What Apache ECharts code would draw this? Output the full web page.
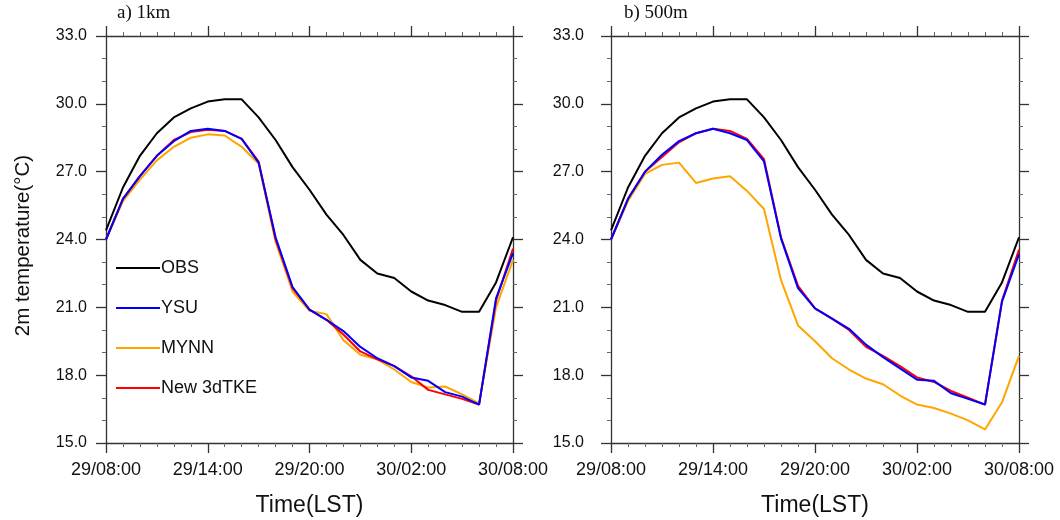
<!DOCTYPE html>
<html>
<head>
<meta charset="utf-8">
<script src="https://cdn.jsdelivr.net/npm/echarts@6/dist/echarts.min.js"></script>
<style>html,body{margin:0;padding:0;background:#fff}#c{width:1060px;height:520px}</style>
</head>
<body>
<div id="c"></div>
<script>
// hours since 29/08:00
var hours = [0,1,2,3,4,5,6,7,8,9,10,11,12,13,14,15,16,17,18,19,20,21,22,23,24];
var timeLabels = ['29/08:00','29/14:00','29/20:00','30/02:00','30/08:00'];
var panelTitles = ['a) 1km','b) 500m'];
var seriesNames = ['OBS','YSU','MYNN','New 3dTKE'];

var obs   = [24.4,26.3,27.7,28.7,29.4,29.8,30.1,30.2,30.2,29.4,28.4,27.2,26.2,25.1,24.2,23.1,22.5,22.3,21.7,21.3,21.1,20.8,20.8,22.1,24.1];

var ysu1  = [24.0,25.8,26.8,27.7,28.35,28.8,28.9,28.8,28.45,27.4,24.1,21.9,20.9,20.45,19.95,19.25,18.75,18.4,17.9,17.75,17.25,17.05,16.7,21.4,23.4];
var mynn1 = [24.0,25.7,26.65,27.5,28.1,28.5,28.65,28.6,28.1,27.35,23.9,21.7,20.85,20.7,19.55,18.9,18.7,18.25,17.7,17.45,17.5,17.15,16.75,21.0,23.1];
var tke1  = [24.0,25.8,26.8,27.7,28.4,28.75,28.85,28.8,28.45,27.45,24.0,21.85,20.9,20.45,19.8,19.05,18.7,18.4,17.95,17.35,17.15,16.95,16.7,21.3,23.6];

var ysu2  = [24.0,25.8,27.0,27.75,28.35,28.7,28.9,28.7,28.4,27.45,24.05,21.85,20.95,20.5,20.05,19.35,18.8,18.3,17.8,17.75,17.2,16.95,16.7,21.25,23.35];
var mynn2 = [24.0,25.7,26.9,27.3,27.4,26.5,26.7,26.8,26.15,25.35,22.2,20.2,19.5,18.75,18.25,17.85,17.6,17.1,16.7,16.55,16.3,16.0,15.6,16.8,18.85];
var tke2  = [24.0,25.8,27.0,27.65,28.3,28.7,28.9,28.8,28.45,27.55,24.1,21.95,20.95,20.5,20.0,19.25,18.85,18.4,17.9,17.7,17.3,17.0,16.7,21.3,23.55];

var colors = {'OBS':'#000000','YSU':'#0000ff','MYNN':'#ffa500','New 3dTKE':'#ff0000'};
var SANS = 'Liberation Sans, Arial, sans-serif';
var SERIF = 'Liberation Serif, Times New Roman, serif';
var AX = '#333';

function pair(vals){ return vals.map(function(v,i){ return [hours[i], v]; }); }

function xAx(gi, pos, show){
  return {
    type:'value', gridIndex:gi, position:pos, min:0, max:24, interval:6,
    axisLine:{show:true, onZero:false, lineStyle:{color:AX, width:1.3}},
    axisTick:{show:true, inside:false, length:10, lineStyle:{color:AX, width:1.3}},
    minorTick:{show:true, splitNumber:6, length:4, lineStyle:{color:'#666', width:1}},
    splitLine:{show:false},
    axisLabel:{show:show, margin:18, fontSize:18, color:'#111', fontFamily:SANS,
      formatter:function(v){ return timeLabels[Math.round(v/6)]; }},
    name: show ? 'Time(LST)' : '', nameLocation:'middle', nameGap:51,
    nameTextStyle:{fontSize:23, color:'#111', fontFamily:SANS}
  };
}
function yAx(gi, pos, show, title, margin){
  return {
    type:'value', gridIndex:gi, position:pos, min:15, max:33, interval:3,
    axisLine:{show:true, onZero:false, lineStyle:{color:AX, width:1.3}},
    axisTick:{show:true, inside:false, length:10, lineStyle:{color:AX, width:1.3}},
    minorTick:{show:true, splitNumber:3, length:4, lineStyle:{color:'#666', width:1}},
    splitLine:{show:false},
    axisLabel:{show:show, margin:margin || 20, fontSize:16, color:'#111', fontFamily:SANS,
      formatter:function(v){ return v.toFixed(1); }},
    name: title || '', nameLocation:'middle', nameGap:72, nameRotate:90,
    nameTextStyle:{fontSize:20.5, color:'#111', fontFamily:SANS, padding:[0,0,0,-12]}
  };
}

function lineS(name, vals, xi, yi){
  return {
    name:name, type:'line', xAxisIndex:xi, yAxisIndex:yi, data:pair(vals),
    showSymbol:false, symbol:'none', smooth:false, animation:false,
    lineStyle:{color:colors[name], width:2}, itemStyle:{color:colors[name]}
  };
}

var option = {
  animation:false,
  backgroundColor:'#fff',
  title:[
    {text:panelTitles[0], left:117, top:4, padding:0, textStyle:{fontFamily:SERIF, fontSize:19, fontWeight:'normal', color:'#111'}},
    {text:panelTitles[1], left:624, top:4, padding:0, textStyle:{fontFamily:SERIF, fontSize:19, fontWeight:'normal', color:'#111'}}
  ],
  legend:{
    data:seriesNames, orient:'vertical', left:116, top:259, itemGap:22, padding:0,
    icon:'rect', itemWidth:44, itemHeight:2, selectedMode:false,
    textStyle:{fontSize:18, color:'#111', fontFamily:SANS, padding:[0,0,0,-4]}
  },
  grid:[
    {left:106, right:547, top:36, bottom:77, containLabel:false, outerBoundsMode:'none'},
    {left:611, right:41, top:36, bottom:77, containLabel:false, outerBoundsMode:'none'}
  ],
  xAxis:[ xAx(0,'bottom',true), xAx(0,'top',false), xAx(1,'bottom',true), xAx(1,'top',false) ],
  yAxis:[ yAx(0,'left',true,'2m temperature(°C)',19), yAx(0,'right',false), yAx(1,'left',true,'',27), yAx(1,'right',false) ],
  series:[
    lineS('OBS', obs, 0, 0),
    lineS('MYNN', mynn1, 0, 0),
    lineS('New 3dTKE', tke1, 0, 0),
    lineS('YSU', ysu1, 0, 0),
    lineS('OBS', obs, 2, 2),
    lineS('MYNN', mynn2, 2, 2),
    lineS('New 3dTKE', tke2, 2, 2),
    lineS('YSU', ysu2, 2, 2)
  ]
};
var chart = echarts.init(document.getElementById('c'), null, {renderer:'canvas'});
chart.setOption(option);
</script>
</body>
</html>
